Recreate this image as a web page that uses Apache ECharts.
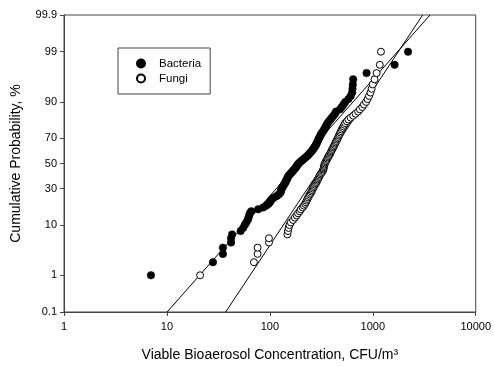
<!DOCTYPE html>
<html><head><meta charset="utf-8">
<script src="https://cdn.jsdelivr.net/npm/echarts@6/dist/echarts.min.js"></script>
<style>html,body{margin:0;padding:0;background:#fff}#c{width:494px;height:367px}</style>
</head><body><div id="c"></div>
<script>
// Sorted concentrations (CFU/m3), ranks 1..n, plotted at Weibull positions i/(n+1)
const bacteriaConc = [7,28,35,35,42,42,43,52,55,57,59,61,62,63,64,66,77,86,92,97,
  100,102,105,110,117,122,126,128,129,130,132,135,137,140,142,144,146,148,150,152,
  156,160,164,168,172,176,180,183,186,190,196,202,208,215,222,230,236,242,248,255,
  260,265,270,275,280,284,288,292,296,300,305,310,315,322,330,337,343,350,356,365,
  375,388,400,415,430,440,480,500,520,540,580,610,630,635,640,645,870,1630,2200];
const fungiConc = [21,70,76,76,98,98,148,150,152,155,160,168,175,182,188,195,200,208,214,220,
  224,228,232,236,240,245,250,255,258,262,266,270,275,280,285,289,293,297,301,305,
  310,316,322,328,331,333,335,337,339,342,347,352,357,362,367,373,379,385,390,395,
  400,406,412,418,424,430,436,442,450,457,463,470,477,485,492,500,510,520,530,540,
  560,580,610,645,680,720,750,790,820,860,890,920,950,975,1000,1040,1090,1170,1200];
// Fitted lognormal lines: geometric mean and geometric standard deviation
const bacteriaFit = [190, 2.59];
const fungiFit = [337, 2.04];
const yTickPercents = [0.1, 1, 10, 30, 50, 70, 90, 99, 99.9];
const xTickLabels = ['1', '10', '100', '1000', '10000'];

function probit(p){
  const a=[-3.969683028665376e+01,2.209460984245205e+02,-2.759285104469687e+02,1.383577518672690e+02,-3.066479806614716e+01,2.506628277459239e+00];
  const b=[-5.447609879822406e+01,1.615858368580409e+02,-1.556989798598866e+02,6.680131188771972e+01,-1.328068155288572e+01];
  const c=[-7.784894002430293e-03,-3.223964580411365e-01,-2.400758277161838e+00,-2.549671010429146e+00,4.374664141464968e+00,2.938163982698783e+00];
  const d=[7.784695709041462e-03,3.224671290700398e-01,2.445134137142996e+00,3.754408661907416e+00];
  const pl=0.02425, ph=1-pl; let q,r;
  if(p<pl){q=Math.sqrt(-2*Math.log(p));return (((((c[0]*q+c[1])*q+c[2])*q+c[3])*q+c[4])*q+c[5])/((((d[0]*q+d[1])*q+d[2])*q+d[3])*q+1);}
  if(p<=ph){q=p-0.5;r=q*q;return (((((a[0]*r+a[1])*r+a[2])*r+a[3])*r+a[4])*r+a[5])*q/(((((b[0]*r+b[1])*r+b[2])*r+b[3])*r+b[4])*r+1);}
  q=Math.sqrt(-2*Math.log(1-p));return -(((((c[0]*q+c[1])*q+c[2])*q+c[3])*q+c[4])*q+c[5])/((((d[0]*q+d[1])*q+d[2])*q+d[3])*q+1);
}
const yTickZ = yTickPercents.map(p => probit(p/100));
const zMin = yTickZ[0], zMax = yTickZ[yTickZ.length-1];
function toPoints(arr){ const n=arr.length; return arr.map((x,i)=>[x, probit((i+1)/(n+1))]); }
function fitLine(f){ return [[f[0]*Math.pow(f[1], zMin), zMin],[f[0]*Math.pow(f[1], zMax), zMax]]; }

const FONT = '"Liberation Sans", Arial, sans-serif';
const chart = echarts.init(document.getElementById('c'), null, {renderer:'canvas'});
chart.setOption({
  animation:false,
  backgroundColor:'#fff',
  grid:{left:64, right:16, top:15, bottom:55, show:true, borderColor:'#444', borderWidth:1, backgroundColor:'transparent'},
  legend:{
    data:['Bacteria','Fungi'], orient:'vertical', left:118, top:48,
    padding:[9.5,9,9.5,18], itemGap:3, itemWidth:8, itemHeight:8,
    borderColor:'#444', borderWidth:1, backgroundColor:'#fff',
    textStyle:{fontFamily:FONT, fontSize:11.5, color:'#000', padding:[0,0,0,9]}
  },
  xAxis:{
    type:'log', logBase:10, min:1, max:10000, splitNumber:4,
    name:'Viable Bioaerosol Concentration, CFU/m³', nameLocation:'middle', nameGap:36,
    nameTextStyle:{fontFamily:FONT, fontSize:14, color:'#000'},
    axisLine:{show:true, onZero:false, lineStyle:{color:'#444', width:1}},
    axisTick:{show:true, inside:false, length:4, lineStyle:{color:'#444'}},
    minorTick:{show:false},
    axisLabel:{fontFamily:FONT, fontSize:11, color:'#000', margin:9,
      formatter:v => { const i = Math.round(Math.log10(v)); return xTickLabels[i] ?? String(v); }},
    splitLine:{show:false}
  },
  yAxis:{
    type:'value', min:zMin, max:zMax,
    name:'Cumulative Probability, %', nameLocation:'middle', nameRotate:90, nameGap:41,
    nameTextStyle:{fontFamily:FONT, fontSize:14, color:'#000'},
    axisLine:{show:true, onZero:false, lineStyle:{color:'#444', width:1}},
    axisTick:{show:true, inside:false, length:4, customValues:yTickZ, lineStyle:{color:'#444'}},
    axisLabel:{fontFamily:FONT, fontSize:11, color:'#000', margin:7, customValues:yTickZ,
      formatter:v => { let best=0, bd=1e9; yTickZ.forEach((z,i)=>{const d=Math.abs(z-v); if(d<bd){bd=d;best=i;}}); return String(yTickPercents[best]); }},
    splitLine:{show:false}
  },
  series:[
    {name:'Bacteria fit', type:'line', data:fitLine(bacteriaFit), symbol:'none', clip:true,
      lineStyle:{color:'#000', width:1}, z:1, silent:true},
    {name:'Fungi fit', type:'line', data:fitLine(fungiFit), symbol:'none', clip:true,
      lineStyle:{color:'#000', width:1}, z:1, silent:true},
    {name:'Bacteria', type:'scatter', data:toPoints(bacteriaConc), symbol:'circle', symbolSize:7.5,
      itemStyle:{color:'#000', borderColor:'#000', borderWidth:0.5, opacity:1}, z:3},
    {name:'Fungi', type:'scatter', data:toPoints(fungiConc), symbol:'circle', symbolSize:7,
      itemStyle:{color:'#fff', borderColor:'#000', borderWidth:1, opacity:1}, z:4}
  ]
});
</script></body></html>
